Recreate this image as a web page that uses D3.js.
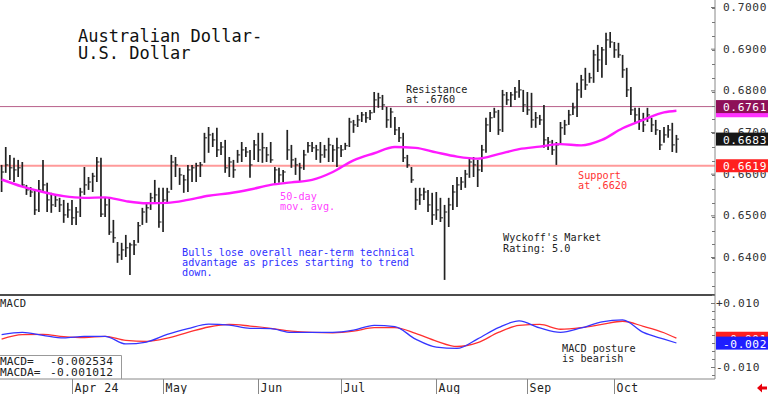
<!DOCTYPE html>
<html>
<head>
<meta charset="utf-8">
<script src="https://cdn.jsdelivr.net/npm/d3@7"></script>
<style>
  body { margin: 0; background: #fff; }
  svg { display: block; font-family: "DejaVu Sans Mono", "Liberation Mono", monospace; }
</style>
</head>
<body>
<svg id="chart" width="768" height="394"></svg>
<script>
// AUD/USD daily bars, first bar 2024-03-07 (weekdays only)
const firstDay = "2024-03-07";

const highs = [
  .6621,.6664,.6645,.6638,.6633,.6628,.6573,.6568,.6561,.6585,
  .6633,.6578,.6554,.6549,.6542,.6537,.6530,.6537,.6520,.6566,
  .6616,.6592,.6602,.6640,.6638,.6542,.6544,.6489,.6436,.6434,
  .6453,.6434,.6441,.6484,.6518,.6530,.6554,.6585,.6566,.6566,
  .6566,.6645,.6640,.6614,.6597,.6621,.6621,.6626,.6628,.6698,
  .6712,.6698,.6710,.6676,.6681,.6640,.6633,.6657,.6676,.6664,
  .6657,.6681,.6698,.6698,.6664,.6676,.6616,.6614,.6609,.6705,
  .6669,.6638,.6626,.6657,.6676,.6676,.6669,.6676,.6669,.6686,
  .6669,.6686,.6669,.6674,.6734,.6729,.6741,.6748,.6748,.6753,
  .6796,.6794,.6789,.6760,.6758,.6736,.6712,.6698,.6645,.6616,
  .6566,.6566,.6566,.6561,.6554,.6556,.6542,.6525,.6542,.6573,
  .6592,.6592,.6609,.6638,.6640,.6633,.6669,.6734,.6748,.6758,
  .6753,.6801,.6796,.6796,.6808,.6825,.6801,.6796,.6794,.6748,
  .6741,.6765,.6688,.6681,.6676,.6724,.6729,.6753,.6770,.6818,
  .6837,.6854,.6842,.6897,.6909,.6904,.6938,.6940,.6916,.6914,
  .6885,.6854,.6808,.6758,.6758,.6746,.6758,.6734,.6729,.6705,
  .6712,.6717,.6722,.6693
];
const lows = [
  .6556,.6602,.6585,.6580,.6592,.6568,.6549,.6544,.6501,.6508,
  .6556,.6508,.6506,.6520,.6508,.6482,.6494,.6477,.6477,.6496,
  .6549,.6561,.6556,.6580,.6496,.6496,.6453,.6434,.6386,.6393,
  .6400,.6357,.6405,.6434,.6477,.6482,.6513,.6530,.6470,.6460,
  .6530,.6561,.6592,.6573,.6554,.6556,.6580,.6580,.6592,.6626,
  .6650,.6664,.6640,.6645,.6602,.6592,.6590,.6626,.6628,.6640,
  .6590,.6633,.6628,.6626,.6628,.6626,.6573,.6578,.6580,.6633,
  .6614,.6597,.6580,.6609,.6650,.6652,.6633,.6626,.6638,.6628,
  .6628,.6616,.6640,.6657,.6664,.6698,.6712,.6724,.6722,.6729,
  .6746,.6758,.6753,.6710,.6710,.6693,.6676,.6628,.6614,.6578,
  .6513,.6525,.6537,.6508,.6477,.6489,.6484,.6345,.6472,.6513,
  .6520,.6561,.6566,.6590,.6592,.6568,.6604,.6650,.6700,.6734,
  .6693,.6700,.6765,.6760,.6777,.6782,.6748,.6741,.6710,.6710,
  .6717,.6662,.6657,.6645,.6621,.6669,.6693,.6717,.6741,.6736,
  .6782,.6801,.6818,.6818,.6844,.6830,.6861,.6902,.6878,.6878,
  .6830,.6784,.6741,.6722,.6705,.6700,.6724,.6700,.6693,.6657,
  .6674,.6686,.6652,.6650
];
const closes = [
  .6604,.6621,.6614,.6609,.6614,.6573,.6561,.6556,.6513,.6561,
  .6573,.6537,.6525,.6537,.6525,.6501,.6513,.6494,.6508,.6556,
  .6573,.6580,.6594,.6628,.6503,.6525,.6460,.6446,.6405,.6417,
  .6422,.6429,.6429,.6475,.6508,.6518,.6542,.6549,.6484,.6537,
  .6556,.6628,.6621,.6597,.6585,.6609,.6614,.6619,.6621,.6686,
  .6693,.6681,.6657,.6664,.6614,.6628,.6609,.6645,.6657,.6652,
  .6621,.6669,.6657,.6662,.6645,.6633,.6609,.6597,.6604,.6657,
  .6633,.6621,.6614,.6645,.6667,.6662,.6657,.6645,.6657,.6669,
  .6657,.6662,.6657,.6667,.6724,.6717,.6729,.6741,.6734,.6746,
  .6777,.6782,.6765,.6729,.6748,.6705,.6686,.6638,.6621,.6585,
  .6537,.6549,.6556,.6525,.6501,.6513,.6494,.6508,.6525,.6556,
  .6573,.6580,.6599,.6628,.6621,.6609,.6657,.6717,.6734,.6748,
  .6705,.6789,.6777,.6789,.6796,.6801,.6765,.6753,.6729,.6734,
  .6729,.6681,.6676,.6657,.6669,.6710,.6717,.6741,.6758,.6801,
  .6825,.6813,.6830,.6885,.6873,.6897,.6921,.6916,.6897,.6885,
  .6849,.6801,.6753,.6741,.6729,.6717,.6741,.6717,.6705,.6669,
  .6693,.6705,.6669,.6683
];

// 50-day moving average and MACD, read at these bar indices
const sampleIdx = [0,5,10,15,20,25,30,35,40,45,50,55,60,65,70,75,80,85,90,95,
  100,105,110,115,120,125,130,135,140,145,150,155,160,163];
const ma50 = [
  .6586,.6569,.6556,.6546,.6542,.6543,.6534,.6529,.6530,.6537,
  .6547,.6553,.6562,.6573,.6579,.6585,.6604,.6632,.6649,.6664,
  .6662,.6651,.6641,.6636,.6647,.6659,.6665,.6671,.6668,.6681,
  .6709,.6729,.6747,.6751
];
const macd = [
  .0001,.0008,-.0001,-.0009,-.0004,-.0004,-.0028,-.0022,.0002,.0020,
  .0034,.0031,.0021,.0020,.0008,.0008,.0008,.0015,.0030,.0026,
  -.0013,-.0038,-.0042,-.0012,.0023,.0044,.0022,.0008,.0022,.0041,
  .0047,.0008,-.0013,-.0025
];
const macdAvg = [
  -.0013,.0001,.0002,-.0005,-.0008,-.0004,-.0017,-.0020,-.0010,.0008,
  .0025,.0033,.0028,.0021,.0012,.0008,.0007,.0012,.0023,.0023,
  .0005,-.0019,-.0036,-.0024,.0008,.0030,.0033,.0018,.0023,.0033,
  .0043,.0027,.0007,-.0010
];

const priceTicks = [0.70, 0.69, 0.68, 0.67, 0.66, 0.65, 0.64];
const macdTicks = [0.01, -0.01];
const monthNames = ["Jan","Feb","Mar","Apr","May","Jun","Jul","Aug","Sep","Oct","Nov","Dec"];
const resistance = 0.6761;
const support = 0.6619;
const lastMacd = -0.002534, lastMacdAvg = -0.001012;

// trading days
const dates = [];
let d = new Date(firstDay + "T12:00:00Z");
while (dates.length < highs.length) {
  const wd = d.getUTCDay();
  if (wd !== 0 && wd !== 6) dates.push(new Date(d));
  d = new Date(d.getTime() + 86400000);
}
const monthStarts = [];
dates.forEach((dt, i) => {
  if (i > 0 && dt.getUTCMonth() !== dates[i - 1].getUTCMonth()) monthStarts.push(i);
});

const svg = d3.select("#chart");
const axisX = 715;

const x = d3.scaleLinear().domain([0, highs.length - 1]).range([1.6, 1.6 + 4.14 * (highs.length - 1)]);
const y = d3.scaleLinear().domain([0.64, 0.70]).range([257, 7]);
const ym = d3.scaleLinear().domain([-0.01, 0.01]).range([367, 303]);

// title
const title = svg.append("g").attr("font-size", 17).attr("fill", "#111");
title.append("text").attr("x", 78).attr("y", 41.5).text("Australian Dollar-");
title.append("text").attr("x", 78).attr("y", 58.5).text("U.S. Dollar");

// resistance / support lines
svg.append("line").attr("x1", 0).attr("x2", axisX).attr("y1", y(resistance)).attr("y2", y(resistance))
  .attr("stroke", "#b8608a").attr("stroke-width", 1);
svg.append("line").attr("x1", 0).attr("x2", axisX).attr("y1", y(support)).attr("y2", y(support))
  .attr("stroke", "#ff9a9a").attr("stroke-width", 2);

// price bars
const bars = svg.append("g");
bars.selectAll("line.hl").data(highs).join("line").attr("class", "hl")
  .attr("x1", (v, i) => x(i)).attr("x2", (v, i) => x(i))
  .attr("y1", v => y(v)).attr("y2", (v, i) => y(lows[i]))
  .attr("stroke", "#222").attr("stroke-width", 1.7);
bars.selectAll("line.cl").data(closes).join("line").attr("class", "cl")
  .attr("x1", (v, i) => x(i)).attr("x2", (v, i) => x(i) + 2.6)
  .attr("y1", v => y(v)).attr("y2", v => y(v))
  .attr("stroke", "#222").attr("stroke-width", 1);

// 50-day moving average
svg.append("path")
  .datum(sampleIdx.map((k, j) => [k, ma50[j]]))
  .attr("fill", "none").attr("stroke", "#ff1aff").attr("stroke-width", 2.4)
  .attr("d", d3.line().x(p => x(p[0])).y(p => y(p[1])).curve(d3.curveMonotoneX));

// annotations
function note(lines, px, py, color, size, lh) {
  const t = svg.append("g").attr("fill", color).attr("font-size", size);
  lines.forEach((s, k) => t.append("text").attr("x", px).attr("y", py + k * lh).text(s));
}
note(["Resistance", "at .6760"], 406, 92.5, "#222", 10.2, 10.2);
note(["Support", "at .6620"], 578, 179, "#ff3333", 10.2, 10.2);
note(["50-day", "mov. avg."], 280, 199.5, "#ff44ff", 10.2, 10.3);
note(["Bulls lose overall near-term technical", "advantage as prices starting to trend", "down."],
  182, 255.5, "#3030ff", 10.2, 10.3);
note(["Wyckoff's Market", "Rating: 5.0"], 503, 241, "#222", 10.2, 10.7);
note(["MACD posture", "is bearish"], 562, 351.5, "#222", 10.2, 10.2);

// panel separators
svg.append("line").attr("x1", 0).attr("x2", axisX).attr("y1", 295).attr("y2", 295)
  .attr("stroke", "#111").attr("stroke-width", 1.6);
svg.append("line").attr("x1", 0).attr("x2", axisX).attr("y1", 379).attr("y2", 379)
  .attr("stroke", "#888").attr("stroke-width", 1);
svg.append("line").attr("x1", axisX).attr("x2", axisX).attr("y1", 0).attr("y2", 379)
  .attr("stroke", "#888").attr("stroke-width", 1);

// MACD lines
const mline = d3.line().x(p => x(p[0])).y(p => ym(p[1])).curve(d3.curveMonotoneX);
svg.append("path").datum(sampleIdx.map((k, j) => [k, macdAvg[j]]))
  .attr("fill", "none").attr("stroke", "#ff3030").attr("stroke-width", 1.3).attr("d", mline);
svg.append("path").datum(sampleIdx.map((k, j) => [k, macd[j]]))
  .attr("fill", "none").attr("stroke", "#3535ff").attr("stroke-width", 1.3).attr("d", mline);

svg.append("text").attr("x", 0).attr("y", 306.5).attr("font-size", 10.5).attr("letter-spacing", 0.3)
  .attr("fill", "#222").text("MACD");

// MACD value box
svg.append("path").attr("d", "M0,355.5H121.5V379").attr("fill", "none").attr("stroke", "#999");
const vb = svg.append("g").attr("font-size", 11.2).attr("fill", "#222");
vb.append("text").attr("x", 0).attr("y", 364.5).text("MACD=");
vb.append("text").attr("x", 0).attr("y", 375.5).text("MACDA=");
vb.append("text").attr("x", 50).attr("y", 364.5).attr("letter-spacing", 0.3).text(d3.format(".6f")(lastMacd).replace("−", "-"));
vb.append("text").attr("x", 50).attr("y", 375.5).attr("letter-spacing", 0.3).text(d3.format(".6f")(lastMacdAvg).replace("−", "-"));

// month axis
const mt = svg.append("g");
monthStarts.forEach((i, k) => {
  const dt = dates[i];
  const lbl = monthNames[dt.getUTCMonth()] + (k === 0 ? " " + String(dt.getUTCFullYear()).slice(2) : "");
  const tx = Math.round(x(i)) + 0.5;
  mt.append("line").attr("x1", tx).attr("x2", tx).attr("y1", 379).attr("y2", 394).attr("stroke", "#888");
  mt.append("text").attr("x", tx + 2).attr("y", 391.5).attr("font-size", 11.5).attr("letter-spacing", 0.5)
    .attr("fill", "#222").text(lbl);
});

// right price axis
const minor = d3.range(0.633, 0.7005, 0.01 / 3);
svg.append("g").selectAll("line").data(minor).join("line")
  .attr("x1", axisX - 3).attr("x2", axisX).attr("y1", v => Math.round(y(v)) + 0.5).attr("y2", v => Math.round(y(v)) + 0.5)
  .attr("stroke", "#777");
const ra = svg.append("g").attr("transform", `translate(${axisX},0)`)
  .call(d3.axisRight(y).tickValues(priceTicks).tickSize(4).tickPadding(4).tickFormat(d3.format(".4f")));
ra.select(".domain").remove();
ra.selectAll("line").attr("stroke", "#777").attr("x1", -4).attr("x2", 0);
ra.selectAll("text").attr("font-family", "DejaVu Sans Mono, monospace").attr("font-size", 11.2)
  .attr("letter-spacing", 0.6).attr("fill", "#333").attr("x", 8);

// MACD axis
const mminor = d3.range(-0.0125, 0.01251, 0.0025);
svg.append("g").selectAll("line").data(mminor).join("line")
  .attr("x1", axisX - 3).attr("x2", axisX).attr("y1", v => Math.round(ym(v)) + 0.5).attr("y2", v => Math.round(ym(v)) + 0.5)
  .attr("stroke", "#777");
const ma = svg.append("g").attr("transform", `translate(${axisX},0)`)
  .call(d3.axisRight(ym).tickValues(macdTicks).tickSize(4).tickPadding(2)
    .tickFormat(v => (v > 0 ? "+" : "-") + d3.format(".3f")(Math.abs(v))));
ma.select(".domain").remove();
ma.selectAll("line").attr("stroke", "#777").attr("x1", -4).attr("x2", 0);
ma.selectAll("text").attr("font-family", "DejaVu Sans Mono, monospace").attr("font-size", 11.2)
  .attr("letter-spacing", 0.6).attr("fill", "#333").attr("x", 1);

// value flags on the right axis
function flag(yv, txt, fill, h) {
  const g = svg.append("g");
  g.append("rect").attr("x", axisX + 1).attr("y", yv - h / 2).attr("width", 768 - axisX - 1).attr("height", h).attr("fill", fill);
  if (txt) g.append("text").attr("x", axisX + 8).attr("y", yv + 4.5).attr("font-size", 11.2)
    .attr("letter-spacing", 0.6).attr("fill", "#fff").text(txt);
}
flag(y(ma50[ma50.length - 1]), "", "#ff33ff", 13);
flag(y(resistance), d3.format(".4f")(resistance), "#8e1058", 13);
flag(y(closes[closes.length - 1]), d3.format(".4f")(closes[closes.length - 1]), "#161616", 13);
flag(y(support), d3.format(".4f")(support), "#ff2020", 13);
flag(ym(lastMacdAvg), "-0.001", "#ff2020", 13);
flag(ym(lastMacd), "-0.002", "#1e1eff", 13);

// little red arrow
svg.append("path").attr("d", "M757,388 L762,383.5 L762,386.5 L767,386.5 L767,389.5 L762,389.5 L762,392.5 Z")
  .attr("fill", "#e8000b");
</script>
</body>
</html>
